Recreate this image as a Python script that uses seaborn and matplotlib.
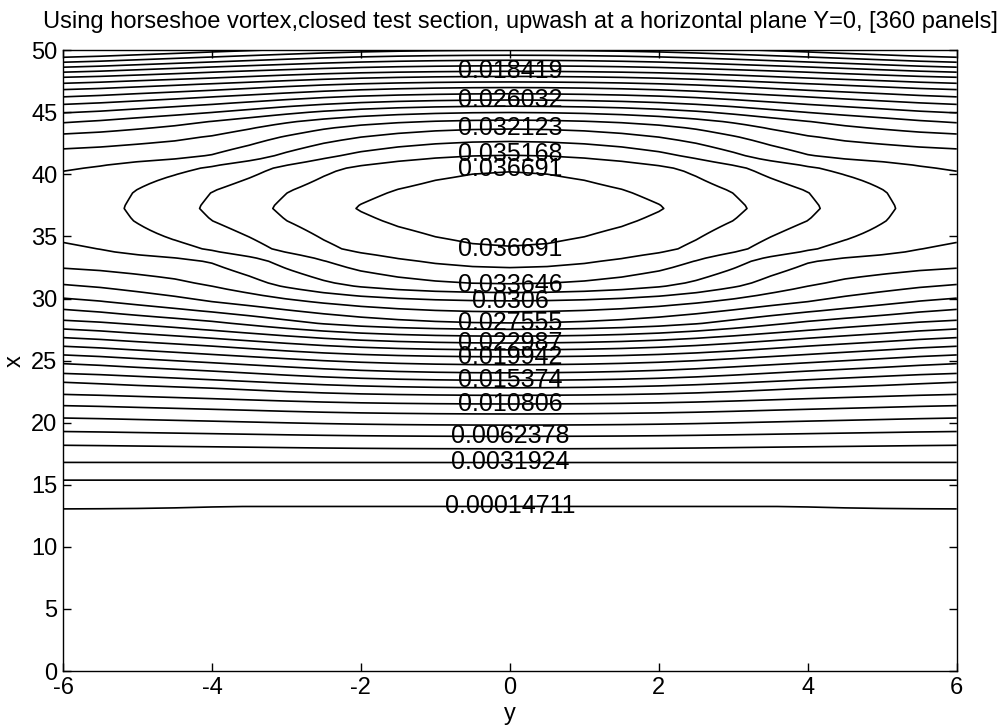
import matplotlib
matplotlib.use("Agg")
import matplotlib.pyplot as plt
import numpy as np
import seaborn as sns

level_min = 0.00014711
level_step = 0.001522665
n_levels = 25

# x where level k crosses the centre line y=0, below the peak (k = 0..24)
center_rise_x = [13.3, 15.4, 16.8, 17.9, 18.9, 19.8, 20.7, 21.5, 22.2, 22.8,
                 23.4, 24.0, 24.65, 25.3, 25.85, 26.4, 26.95, 27.5, 28.0,
                 28.9, 29.8, 30.45, 31.1, 32.4, 34.0]
# above the peak (k = 24 down to 6)
center_fall_x = [40.4, 41.6, 42.7, 43.7, 44.4, 45.0, 45.5, 46.0, 46.5, 47.0,
                 47.45, 47.9, 48.3, 48.75, 49.2, 49.6, 50.0, 50.4, 50.8]
peak_x = 37.3
center_peak = 0.0378

# at y = +-4 (k = 0..22, then 22 down to 6)
mid_rise_x = [13.25, 15.4, 16.8, 18.07, 19.12, 20.13, 21.09, 21.94, 22.8,
              23.46, 24.17, 24.83, 25.5, 26.18, 26.81, 27.45, 28.19, 28.93,
              29.76, 31.1, 33.1, 33.9, 36.3]
mid_fall_x = [38.6, 40.6, 41.4, 43.0, 44.24, 44.96, 45.62, 46.23, 46.76,
              47.3, 47.75, 48.23, 48.65, 49.05, 49.45, 49.85, 50.25]
mid_peak = 0.0339

# at the side walls y = +-6 (k = 0..20, then 20 down to 6)
edge_rise_x = [13.2, 15.4, 16.8, 18.2, 19.3, 20.4, 21.4, 22.3, 23.3, 24.0,
               24.8, 25.5, 26.2, 26.9, 27.6, 28.3, 29.2, 30.1, 31.2, 32.5,
               34.7]
edge_fall_x = [40.1, 42.0, 43.2, 44.1, 44.9, 45.6, 46.2, 46.8, 47.3, 47.8,
               48.2, 48.6, 49.0, 49.4, 49.8]
edge_peak = 0.0309

# half width (in y) of the closed contours k = 24, 23
ellipse_tip_y = [2.2, 3.2]

# which levels carry a label (on the line y=0)
label_rise_k = [0, 2, 4, 7, 10, 13, 15, 18, 20, 22, 24]
label_fall_k = [24, 23, 21, 17, 12]

title = ("Using horseshoe vortex,closed test section, upwash at a "
         "horizontal plane Y=0, [360 panels]")


def profile(xg, levels, rise_x, fall_x, peak):
    """Value along x from the crossing positions of each level."""
    n_r = len(rise_x)
    top = n_r - 1
    bottom = top - len(fall_x)
    px = np.r_[0, 10, rise_x, peak_x, fall_x]
    pv = np.r_[0, 0, levels[:n_r], peak, levels[top:bottom:-1]]
    return np.interp(xg, px, pv)


def build_field(levels):
    """Upwash field on a y-x grid from the three x profiles."""
    yg = np.linspace(-6, 6, 25)
    xg = np.linspace(0, 50, 201)
    f0 = profile(xg, levels, center_rise_x, center_fall_x, center_peak)
    f4 = profile(xg, levels, mid_rise_x, mid_fall_x, mid_peak)
    f6 = profile(xg, levels, edge_rise_x, edge_fall_x, edge_peak)

    # weight centre -> y=4, set by the width of the two inner ellipses
    v_tips = (center_peak - levels[[24, 23]]) / (center_peak - mid_peak)
    vy = np.r_[0, 1.1, ellipse_tip_y, 4.0]
    vv = np.r_[0, v_tips[0] * 0.25, v_tips, 1.0]

    ay = np.abs(yg)
    v = np.interp(ay, vy, vv)
    u = np.clip((ay - 4.0) / 2.0, 0, 1)
    inner = f0[:, None] * (1 - v) + f4[:, None] * v
    outer = f4[:, None] * (1 - u) + f6[:, None] * u
    z = np.where(ay[None, :] <= 4.0, inner, outer)

    # light smoothing across y to round off the corners
    zp = np.pad(z, ((0, 0), (1, 1)), mode="edge")
    z = 0.25 * zp[:, :-2] + 0.5 * zp[:, 1:-1] + 0.25 * zp[:, 2:]
    return yg, xg, z


def main():
    sns.set_style("ticks")
    plt.rcParams["font.family"] = ["Liberation Sans", "DejaVu Sans"]
    plt.rcParams["axes.unicode_minus"] = False
    plt.rcParams["text.color"] = "k"
    plt.rcParams["axes.labelcolor"] = "k"

    levels = level_min + level_step * np.arange(n_levels)
    yg, xg, z = build_field(levels)

    fig = plt.figure(figsize=(10.05, 7.27), dpi=100)
    ax = fig.add_axes([0.0627, 0.077, 0.8893, 0.854])

    ax.contour(yg, xg, z, levels=levels, colors="k", linewidths=1.2)

    # labels sit on the centre line, over the contour (matlab clabel style)
    spots = [(k, center_rise_x[k]) for k in label_rise_k]
    spots += [(k, center_fall_x[24 - k]) for k in label_fall_k]
    for k, xc in spots:
        ax.text(0, xc, "%.5g" % levels[k], fontsize=18, ha="center",
                va="center", color="k")

    ax.set_xlim(-6, 6)
    ax.set_ylim(0, 50)
    ax.set_xticks(np.arange(-6, 7, 2))
    ax.set_yticks(np.arange(0, 51, 5))
    ax.tick_params(direction="in", top=True, right=True, length=6,
                   width=1, labelsize=17, pad=4, colors="k")
    for s in ax.spines.values():
        s.set_linewidth(1.0)
        s.set_color("k")

    ax.set_xlabel("y", fontsize=17, labelpad=3)
    ax.set_ylabel("x", fontsize=17, labelpad=4)
    ax.set_title(title, fontsize=17, pad=16, x=0.512, color="k")

    fig.savefig("out.png", dpi=100)
    plt.close(fig)


if __name__ == "__main__":
    main()
